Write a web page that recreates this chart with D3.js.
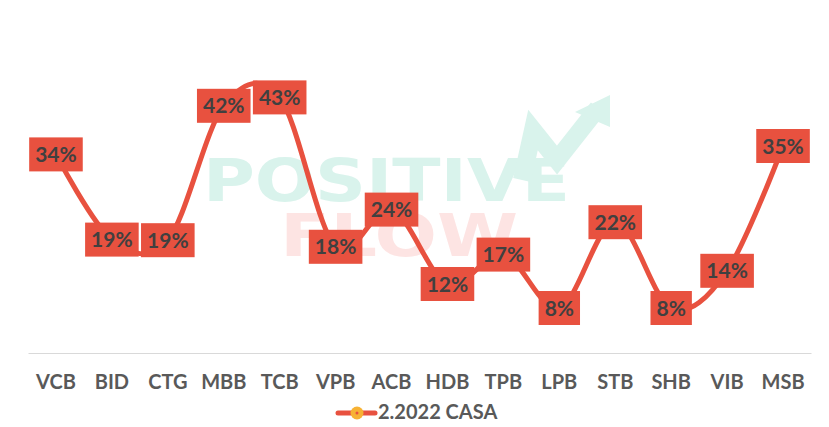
<!DOCTYPE html>
<html>
<head>
<meta charset="utf-8">
<script src="https://cdn.jsdelivr.net/npm/d3@7"></script>
<style>
  body { margin: 0; background: #fff; }
  text { font-family: Lato, "Open Sans", sans-serif; font-weight: bold; }
</style>
</head>
<body>
<div id="chart"></div>
<script>
// bank codes and CASA ratio (%) for 2.2022
var banks = ["VCB", "BID", "CTG", "MBB", "TCB", "VPB", "ACB", "HDB", "TPB", "LPB", "STB", "SHB", "VIB", "MSB"];
var casa = [33.6, 19.4, 19.3, 41.7, 43.1, 18.2, 24.4, 12.0, 16.9, 8.0, 22.3, 8.0, 14.2, 35.0];
var seriesName = "2.2022 CASA";

var svgWidth = 829;
var svgHeight = 427;

var margin = { top: 56, right: 18, bottom: 74, left: 28 };
var width = svgWidth - margin.left - margin.right;
var axisY = 353;

var red = "#e8513f";

var svg = d3.select("#chart")
    .append("svg")
    .attr("width", svgWidth)
    .attr("height", svgHeight);

// watermark in the background
var wm = svg.append("g").attr("class", "watermark");
wm.append("text")
    .attr("x", 203)
    .attr("y", 201)
    .attr("textLength", 367)
    .attr("lengthAdjust", "spacingAndGlyphs")
    .style("font-family", "'DejaVu Sans', sans-serif")
    .style("font-size", "58px")
    .attr("fill", "#d9f3ec")
    .text("POSITIVE");
wm.append("text")
    .attr("x", 280)
    .attr("y", 256)
    .attr("textLength", 238)
    .attr("lengthAdjust", "spacingAndGlyphs")
    .style("font-family", "'DejaVu Sans', sans-serif")
    .style("font-size", "58px")
    .attr("fill", "#fde4e3")
    .text("FLOW");
wm.append("path")
    .attr("d", "M522,180 L533,130 L557,160 L598,108")
    .attr("fill", "none")
    .attr("stroke", "#d9f3ec")
    .attr("stroke-width", 18);
wm.append("path")
    .attr("d", "M575,112 L610,95 L610,127 Z")
    .attr("fill", "#d9f3ec");

var x = d3.scaleBand()
    .domain(banks)
    .range([margin.left, margin.left + width]);

var y = d3.scaleLinear()
    .domain([0, 50])
    .range([356, 56]);

// category axis
var xAxis = svg.append("g")
    .attr("transform", `translate(0, ${axisY})`)
    .call(d3.axisBottom(x).tickSize(0).tickPadding(22));
xAxis.select(".domain").attr("stroke", "#d9d9d9").attr("stroke-width", 1);
xAxis.selectAll("text")
    .style("font-family", "Lato, sans-serif")
    .style("font-size", "20px")
    .style("font-weight", "bold")
    .attr("fill", "#595959");

var data = banks.map(function(b, i) { return { bank: b, value: casa[i] }; });

var line = d3.line()
    .x(d => x(d.bank) + x.bandwidth() / 2)
    .y(d => y(d.value))
    .curve(d3.curveCardinal.tension(0));

svg.append("path")
    .datum(data)
    .attr("d", line)
    .attr("fill", "none")
    .attr("stroke", red)
    .attr("stroke-width", 5)
    .attr("stroke-linecap", "round");

// data labels
var labels = svg.selectAll(".lbl")
    .data(data)
    .enter()
    .append("g")
    .attr("class", "lbl")
    .attr("transform", d => `translate(${x(d.bank) + x.bandwidth() / 2}, ${y(d.value)})`);

labels.append("rect").attr("fill", red);
labels.append("text")
    .attr("text-anchor", "middle")
    .attr("dy", "0.36em")
    .style("font-size", "21px")
    .attr("fill", "#404040")
    .text(d => Math.round(d.value) + "%");

labels.each(function() {
    var g = d3.select(this);
    var w = g.select("text").node().getComputedTextLength();
    g.select("rect")
        .attr("x", -w / 2 - 6)
        .attr("y", -17)
        .attr("width", w + 12)
        .attr("height", 34);
});

// legend
var legend = svg.append("g").attr("transform", "translate(338, 413)");
legend.append("line")
    .attr("x1", 0).attr("x2", 37)
    .attr("stroke", red)
    .attr("stroke-width", 5)
    .attr("stroke-linecap", "round");
legend.append("circle")
    .attr("cx", 19).attr("r", 6.5)
    .attr("fill", "#f7b234");
legend.append("circle")
    .attr("cx", 19).attr("r", 1.5)
    .attr("fill", red);
legend.append("text")
    .attr("x", 40)
    .attr("y", 6)
    .style("font-size", "20px")
    .attr("fill", "#595959")
    .text(seriesName);
</script>
</body>
</html>
